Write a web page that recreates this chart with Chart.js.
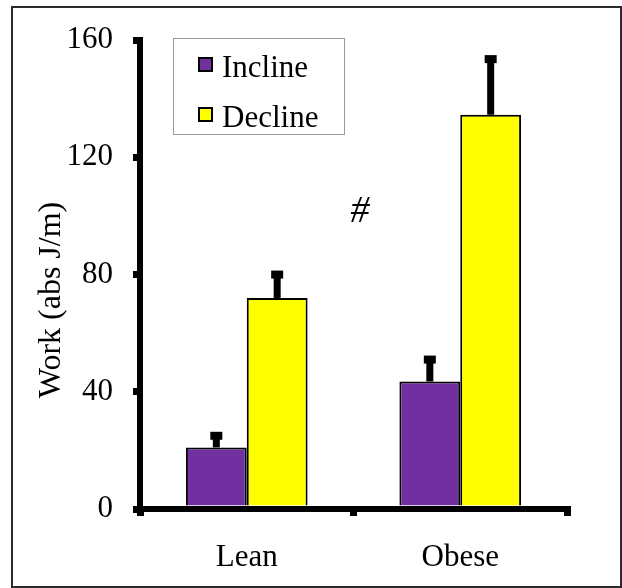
<!DOCTYPE html>
<html>
<head>
<meta charset="utf-8">
<script src="https://cdn.jsdelivr.net/npm/chart.js@4"></script>
<style>
  body { margin: 0; background: #fff; }
  #wrap { position: relative; width: 622px; height: 588px; }
  #frame { position: absolute; left: 11px; top: 6px; width: 611px; height: 582px;
           box-sizing: border-box; border: 2px solid #2b2b2b; pointer-events: none; }
</style>
</head>
<body>
<div id="wrap">
  <canvas id="workChart" width="622" height="588"></canvas>
  <div id="frame"></div>
</div>
<script>
// Dados do gráfico
const groups = ['Lean', 'Obese'];
const inclineWork = [21, 43.5];
const declineWork = [72, 134.5];
const inclineErr = [5, 8.5];
const declineErr = [9, 20];
const yTicks = [0, 40, 80, 120, 160];
const yTitle = 'Work (abs J/m)';
const hashMark = { text: '#', x: 0.53, y: 98 };

const serif = "'Liberation Serif', 'Times New Roman', serif";

// Barras de erro (só para cima)
const errorBars = {
    id: 'errorBars',
    afterDatasetsDraw(chart) {
        const ctx = chart.ctx;
        const y = chart.scales.y;
        chart.data.datasets.forEach((ds, i) => {
            const meta = chart.getDatasetMeta(i);
            meta.data.forEach((bar, j) => {
                const top = y.getPixelForValue(ds.data[j]);
                const end = y.getPixelForValue(ds.data[j] + ds.errors[j]);
                ctx.save();
                ctx.fillStyle = '#000';
                ctx.fillRect(bar.x - 3.5, end, 7, top - end);
                ctx.fillRect(bar.x - 6, end - 1, 12, 8);
                ctx.restore();
            });
        });
    }
};

// Legenda em caixa, título do eixo y e marca "#"
const boxLegend = {
    id: 'boxLegend',
    afterDraw(chart) {
        const ctx = chart.ctx;
        ctx.save();
        ctx.strokeStyle = '#9a9a9a';
        ctx.lineWidth = 1;
        ctx.strokeRect(173.5, 38.5, 171, 96);
        chart.data.datasets.forEach((ds, i) => {
            const sy = 57 + i * 50;
            ctx.fillStyle = ds.backgroundColor;
            ctx.fillRect(198, sy, 15, 15);
            ctx.strokeStyle = '#000';
            ctx.lineWidth = 2;
            ctx.strokeRect(199, sy + 1, 13, 13);
            ctx.fillStyle = '#000';
            ctx.font = '31px ' + serif;
            ctx.textBaseline = 'alphabetic';
            ctx.textAlign = 'left';
            ctx.fillText(ds.label, 222, sy + 20);
        });

        // título do eixo y
        ctx.save();
        ctx.translate(52, 300);
        ctx.rotate(-Math.PI / 2);
        ctx.font = '32px ' + serif;
        ctx.textAlign = 'center';
        ctx.textBaseline = 'middle';
        ctx.fillText(yTitle, 0, 0);
        ctx.restore();

        const xs = chart.scales.x, ys = chart.scales.y;
        ctx.font = 'italic 38px ' + serif;
        ctx.textAlign = 'center';
        ctx.textBaseline = 'alphabetic';
        ctx.fillText(hashMark.text, xs.getPixelForValue(hashMark.x), ys.getPixelForValue(hashMark.y));
        ctx.restore();
    }
};

window.onload = function() {
    window.workChart = new Chart(document.getElementById('workChart'), {
        type: 'bar',
        data: {
            labels: groups,
            datasets: [
                {
                    label: 'Incline',
                    data: inclineWork,
                    errors: inclineErr,
                    backgroundColor: '#7030A0',
                    borderColor: '#000',
                    borderWidth: 2,
                    barPercentage: 1,
                    categoryPercentage: 0.57
                },
                {
                    label: 'Decline',
                    data: declineWork,
                    errors: declineErr,
                    backgroundColor: '#FFFF00',
                    borderColor: '#000',
                    borderWidth: 2,
                    barPercentage: 1,
                    categoryPercentage: 0.57
                }
            ]
        },
        options: {
            responsive: false,
            animation: false,
            layout: { padding: { top: 40, right: 55, left: 0, bottom: 0 } },
            plugins: {
                legend: { display: false },
                tooltip: { enabled: false }
            },
            scales: {
                x: {
                    afterFit(scale) { scale.height = 79; },
                    border: { display: true, color: '#000', width: 6 },
                    grid: { drawOnChartArea: false, drawTicks: true, tickLength: 7, lineWidth: 7, color: '#000' },
                    ticks: { color: '#000', padding: 23, font: { family: serif, size: 31 } }
                },
                y: {
                    min: 0,
                    max: 160,
                    afterFit(scale) { scale.width = 140; },
                    afterBuildTicks(scale) { scale.ticks = yTicks.map(v => ({ value: v })); },
                    border: { display: true, color: '#000', width: 6 },
                    grid: { drawOnChartArea: false, drawTicks: true, tickLength: 7, lineWidth: 7, color: '#000' },
                    ticks: { color: '#000', padding: 20, font: { family: serif, size: 31 } }
                }
            }
        },
        plugins: [errorBars, boxLegend]
    });
};
</script>
</body>
</html>
